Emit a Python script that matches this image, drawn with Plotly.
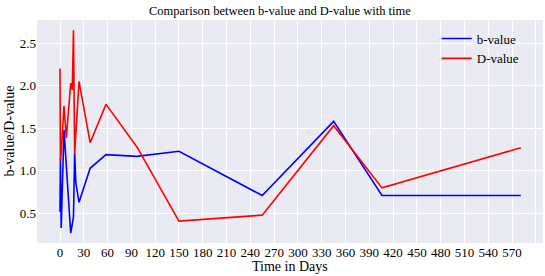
import plotly.graph_objects as go

days_b = [0, 0.5, 1.5, 5, 13.5, 17, 18.5, 20, 24, 38, 58, 97, 150, 255, 345, 406, 581]
b_value = [0.52, 1.15, 0.33, 1.48, 0.27, 0.46, 1.21, 0.86, 0.63, 1.03, 1.19, 1.17, 1.23, 0.71, 1.58, 0.71, 0.71]

days_d = [0, 0.5, 1.5, 5, 8, 13.5, 15.5, 17, 18.5, 24, 38, 58, 97, 150, 255, 345, 406, 581]
d_value = [2.2, 1.12, 1.2, 1.76, 1.385, 2.03, 1.95, 2.65, 1.2, 2.05, 1.33, 1.78, 1.28, 0.41, 0.48, 1.53, 0.8, 1.27]

x_ticks = list(range(0, 601, 30))
y_ticks = [0.5, 1.0, 1.5, 2.0, 2.5]

FONT = "Liberation Serif, Times New Roman, serif"

fig = go.Figure()
fig.add_trace(go.Scatter(x=days_b, y=b_value, mode="lines", name="b-value",
                         line=dict(color="#0000FF", width=1.6)))
fig.add_trace(go.Scatter(x=days_d, y=d_value, mode="lines", name="D-value",
                         line=dict(color="#FF0000", width=1.6)))

fig.update_layout(
    width=545, height=276,
    margin=dict(l=37, r=2, t=20, b=33, autoexpand=False),
    paper_bgcolor="white", plot_bgcolor="#EAEAF2",
    font=dict(family=FONT, size=13, color="black"),
    title=dict(text="Comparison between b-value and D-value with time",
               x=0.48, xref="paper", xanchor="center", y=0.963, yanchor="middle",
               font=dict(family=FONT, size=12.5, color="black")),
    legend=dict(x=0.79, y=0.984, xanchor="left", yanchor="top",
                bgcolor="rgba(0,0,0,0)", font=dict(family=FONT, size=13, color="black"),
                itemwidth=30, tracegroupgap=2),
    showlegend=True,
    annotations=[
        dict(text="Time in Days", x=0.5, xref="paper", y=0, yref="paper",
             yanchor="middle", yshift=-23,
             showarrow=False, font=dict(family=FONT, size=14, color="black")),
        dict(text="b-value/D-value", x=0, y=0.5, xref="paper", yref="paper",
             showarrow=False, textangle=-90, xanchor="center", yanchor="middle",
             xshift=-28, font=dict(family=FONT, size=14, color="black")),
    ],
)

fig.update_xaxes(range=[-29, 609], tickmode="array", tickvals=x_ticks,
                 ticktext=[str(t) for t in x_ticks], automargin=False,
                 showgrid=True, gridcolor="white", gridwidth=1, zeroline=False,
                 showline=False, ticks="", ticklen=0,
                 tickfont=dict(family=FONT, size=13, color="black"))
fig.update_yaxes(range=[0.153, 2.77], tickmode="array", tickvals=y_ticks,
                 ticktext=["0.5", "1.0", "1.5", "2.0", "2.5"], automargin=False,
                 showgrid=True, gridcolor="white", gridwidth=1, zeroline=False,
                 showline=False, ticks="", ticklen=0,
                 tickfont=dict(family=FONT, size=13, color="black"))

fig.write_html("out.html", config={"displayModeBar": False},
               post_script="document.body.style.margin='0';")
